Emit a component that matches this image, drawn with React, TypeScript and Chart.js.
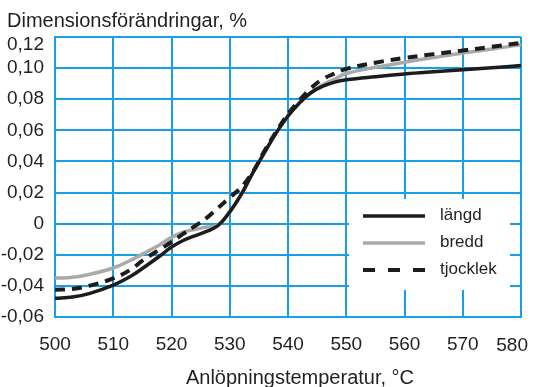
import React, { useEffect, useRef } from 'react';
import { Chart, registerables } from 'chart.js';

Chart.register(...registerables);

// Temperature (°C)
const temps = [500, 503, 506, 510, 513, 515, 518, 520, 522, 524, 526, 528, 530, 532, 534, 536, 538, 540, 542, 544, 546, 548, 550, 555, 560, 565, 570, 575, 580];

// Dimension change (%)
const langd = [-0.048, -0.0472, -0.0448, -0.0395, -0.0338, -0.0288, -0.0208, -0.015, -0.0108, -0.0078, -0.005, -0.0012, 0.0076, 0.019, 0.033, 0.046, 0.0585, 0.0692, 0.0778, 0.0843, 0.0884, 0.091, 0.0925, 0.0945, 0.0962, 0.0976, 0.0989, 0.1002, 0.1017];
const bredd = [-0.035, -0.0345, -0.0325, -0.0285, -0.0235, -0.0196, -0.0135, -0.0088, -0.0055, -0.0037, -0.0022, -0.0008, 0.0076, 0.019, 0.033, 0.046, 0.0585, 0.0692, 0.0778, 0.0846, 0.0893, 0.093, 0.0965, 0.1005, 0.1038, 0.1068, 0.1097, 0.1123, 0.115];
const tjocklek = [-0.0425, -0.042, -0.0398, -0.0352, -0.0295, -0.0238, -0.0165, -0.0118, -0.0066, -0.0016, 0.0036, 0.0102, 0.0168, 0.0235, 0.0335, 0.047, 0.0592, 0.0705, 0.0795, 0.0873, 0.093, 0.0965, 0.0995, 0.1035, 0.1065, 0.109, 0.1113, 0.1137, 0.1162];

const seriesNames = ['längd', 'bredd', 'tjocklek'];
const xMin = 500;
const xMax = 580;
const xStep = 10;
const yMin = -0.06;
const yMax = 0.12;
const yStep = 0.02;
const yTitle = 'Dimensionsförändringar, %';
const xTitle = 'Anlöpningstemperatur, °C';

const FONT = '"Liberation Sans", Arial, sans-serif';
const TEXT = '#231f20';
const GRID = '#1aa0e2';

const fmtY = (v: number) => {
  if (Math.abs(v) < 1e-9) return '0';
  return v.toFixed(2).replace('.', ',');
};

const overlay = {
  id: 'overlay',
  afterDraw(chart: any) {
    const ctx = chart.ctx;
    const xs = chart.scales.x;
    const ys = chart.scales.y;
    ctx.save();
    ctx.fillStyle = TEXT;
    // y axis title
    ctx.font = `20px ${FONT}`;
    ctx.textAlign = 'left';
    ctx.textBaseline = 'alphabetic';
    ctx.fillText(yTitle, 7, 26.5);
    // x axis title
    ctx.textAlign = 'center';
    ctx.fillText(xTitle, (xs.left + xs.right) / 2 + 12, 383.5);
    // top y tick label (shifted below the title)
    ctx.font = `19px ${FONT}`;
    ctx.textAlign = 'right';
    ctx.fillText(fmtY(yMax), ys.right - 11, 50);
    // last x tick label (kept inside the page)
    ctx.fillText(String(xMax), xs.getPixelForValue(xMax) + 7, 350.5);

    // legend
    ctx.fillStyle = '#ffffff';
    ctx.fillRect(349, 199, 161, 91);
    const rows = [216, 243, 270];
    const ds = chart.data.datasets;
    for (let i = 0; i < ds.length; i++) {
      const d = ds[i];
      const y = rows[i];
      ctx.beginPath();
      ctx.strokeStyle = d.borderColor;
      ctx.lineWidth = d.borderWidth;
      ctx.setLineDash(d.borderDash && d.borderDash.length ? [12, 13] : []);
      ctx.lineCap = 'butt';
      ctx.moveTo(363, y);
      ctx.lineTo(425, y);
      ctx.stroke();
      ctx.setLineDash([]);
      ctx.fillStyle = TEXT;
      ctx.font = `17px ${FONT}`;
      ctx.textAlign = 'left';
      ctx.textBaseline = 'middle';
      ctx.fillText(d.label, 440, y - 1);
    }
    ctx.restore();
  },
};

export default function App() {
  const ref = useRef<HTMLCanvasElement | null>(null);

  useEffect(() => {
    if (!ref.current) return;
    const chart = new Chart(ref.current, {
      type: 'line',
      data: {
        datasets: [
          {
            label: seriesNames[0],
            data: temps.map((t, i) => ({ x: t, y: langd[i] })),
            borderColor: '#1c1c1c',
            borderWidth: 3.5,
            pointRadius: 0,
            tension: 0.4,
            order: 1,
          },
          {
            label: seriesNames[1],
            data: temps.map((t, i) => ({ x: t, y: bredd[i] })),
            borderColor: '#a9a9a9',
            borderWidth: 3.5,
            pointRadius: 0,
            tension: 0.4,
            order: 2,
          },
          {
            label: seriesNames[2],
            data: temps.map((t, i) => ({ x: t, y: tjocklek[i] })),
            borderColor: '#1c1c1c',
            borderWidth: 4,
            borderDash: [10, 7],
            pointRadius: 0,
            tension: 0.4,
            order: 0,
          },
        ],
      },
      options: {
        animation: false,
        responsive: true,
        maintainAspectRatio: false,
        layout: { padding: { top: 37, right: 12, left: 0, bottom: 0 } },
        plugins: { legend: { display: false }, tooltip: { enabled: false }, title: { display: false } },
        scales: {
          x: {
            type: 'linear',
            min: xMin,
            max: xMax,
            ticks: {
              stepSize: xStep,
              color: TEXT,
              font: { family: FONT, size: 19 },
              padding: 16,
              maxRotation: 0,
              callback: (v: any) => (Number(v) === xMax ? '' : String(v)),
            },
            grid: { color: GRID, lineWidth: 2, drawTicks: false },
            border: { display: true, color: GRID, width: 2 },
            afterFit: (s: any) => {
              s.height = 70;
              s.paddingLeft = 0;
              s.paddingRight = 0;
            },
          },
          y: {
            min: yMin,
            max: yMax,
            ticks: {
              stepSize: yStep,
              color: TEXT,
              font: { family: FONT, size: 19 },
              padding: 11,
              callback: (v: any) => (Math.abs(Number(v) - yMax) < 1e-9 ? '' : fmtY(Number(v))),
            },
            grid: { color: GRID, lineWidth: 2, drawTicks: false },
            border: { display: true, color: GRID, width: 2 },
            afterFit: (s: any) => {
              s.width = 55;
              s.paddingTop = 0;
              s.paddingBottom = 0;
            },
          },
        },
      },
      plugins: [overlay],
    } as any);
    return () => chart.destroy();
  }, []);

  return (
    <div style={{ position: 'absolute', left: 0, top: 0, width: 533, height: 387, background: '#fff' }}>
      <canvas ref={ref} />
    </div>
  );
}
